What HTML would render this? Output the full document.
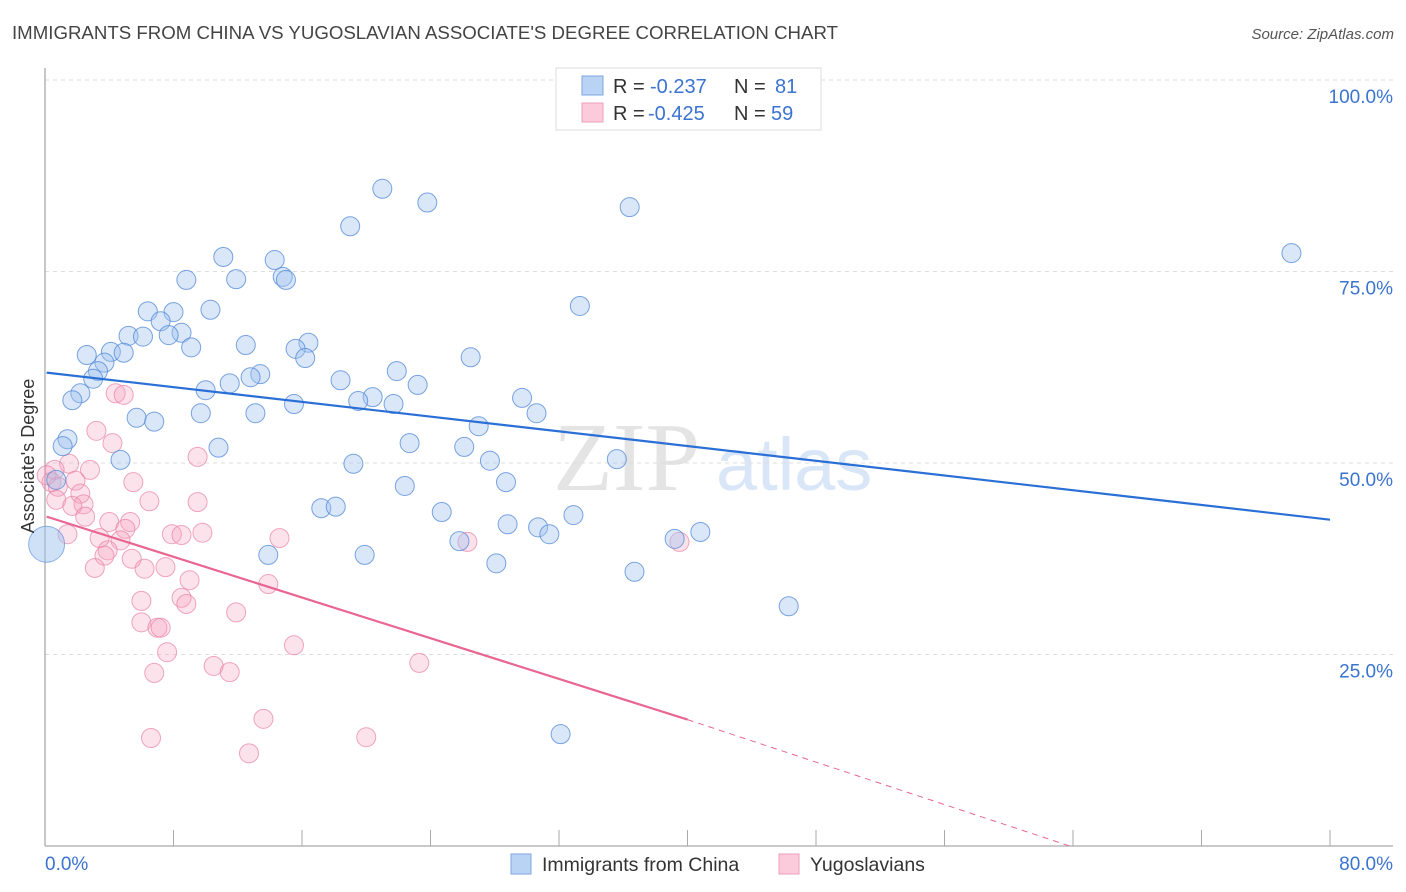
<!DOCTYPE html>
<html><head><meta charset="utf-8"><style>
body{margin:0;background:#fff;width:1406px;height:892px;overflow:hidden;font-family:"Liberation Sans",sans-serif}
svg{position:absolute;left:0;top:0}
</style></head><body>
<svg id="chart" width="1406" height="892" xmlns="http://www.w3.org/2000/svg">
<text x="12" y="39" font-size="18" fill="#444" textLength="826" lengthAdjust="spacingAndGlyphs">IMMIGRANTS FROM CHINA VS YUGOSLAVIAN ASSOCIATE'S DEGREE CORRELATION CHART</text>
<text x="1394" y="39" font-size="15" fill="#555" text-anchor="end" font-style="italic">Source: ZipAtlas.com</text>
<g>
<text x="553" y="490" font-size="98" font-family="Liberation Serif,serif" fill="#e4e4e4">ZIP</text>
<text x="716" y="490" font-size="74" fill="#d9e6f7">atlas</text>
</g>
<g id="grid"></g>
<g id="axes"></g>
<g id="pinkpts"></g>
<g id="bluepts"></g>
<g id="trends"></g>
<text transform="translate(34,456) rotate(-90)" font-size="18" fill="#333" text-anchor="middle">Associate's Degree</text>
<g>
<rect x="556" y="68" width="265" height="62" fill="#fff" stroke="#ddd"/>
<rect x="582" y="76" width="21" height="19" fill="#b9d3f5" stroke="#7ea6e0"/>
<rect x="582" y="103" width="21" height="19" fill="#fbcadb" stroke="#eda0bb"/>
<text x="613" y="93" font-size="20" fill="#333">R = <tspan fill="#3b73d0" x="650">-0.237</tspan><tspan x="734">N = </tspan><tspan fill="#3b73d0" x="775">81</tspan></text>
<text x="613" y="120" font-size="20" fill="#333">R = <tspan fill="#3b73d0" x="648">-0.425</tspan><tspan x="734">N = </tspan><tspan fill="#3b73d0" x="771">59</tspan></text>
</g>
<g>
<rect x="511" y="854" width="20" height="20" fill="#b9d3f5" stroke="#7ea6e0"/>
<text x="542" y="871" font-size="19.5" fill="#333">Immigrants from China</text>
<rect x="779" y="854" width="20" height="20" fill="#fbcadb" stroke="#eda0bb"/>
<text x="810" y="871" font-size="19.5" fill="#333">Yugoslavians</text>
</g>
</svg>
<script>
const blueX=[21.0,23.8,36.4,19.0,77.6,11.1,14.3,8.8,11.9,14.8,15.0,33.3,10.3,6.4,8.0,7.2,8.5,7.7,5.2,6.1,16.4,12.5,9.1,15.6,2.6,4.1,4.9,16.2,26.5,3.7,3.3,3.0,21.9,13.4,12.8,11.5,18.4,23.2,10.0,2.2,1.7,20.4,19.5,21.7,29.7,15.5,9.7,13.1,30.6,5.7,6.8,27.0,1.4,1.1,22.7,10.8,26.1,4.7,35.6,27.7,19.2,28.7,22.4,0.7,17.2,18.1,24.7,32.9,28.8,30.7,40.8,25.8,31.4,39.2,13.9,19.9,28.1,36.7,46.3,32.1];
const blueY=[85.8,84.0,83.4,80.9,77.4,76.9,76.5,73.9,74.0,74.3,73.9,70.5,70.0,69.8,69.7,68.5,67.0,66.7,66.6,66.5,65.7,65.4,65.1,64.9,64.1,64.5,64.4,63.7,63.8,63.1,62.0,61.0,62.0,61.6,61.2,60.4,60.8,60.2,59.5,59.1,58.2,58.6,58.1,57.7,58.5,57.7,56.5,56.5,56.5,55.9,55.4,54.8,53.1,52.2,52.6,52.0,52.1,50.4,50.5,50.3,49.9,47.5,47.0,47.8,44.1,44.3,43.6,43.2,42.0,41.6,41.0,39.8,40.7,40.1,38.0,38.0,36.9,35.8,31.3,14.6];
const pinkX=[4.4,4.9,3.2,4.2,9.5,1.5,2.8,0.6,1.9,0.4,0.8,5.5,2.2,6.5,9.5,0.7,2.4,1.7,2.5,4.0,5.3,1.4,5.0,7.9,8.5,9.8,14.6,26.3,39.5,3.4,4.7,3.9,3.7,5.4,6.2,7.5,3.1,9.0,13.9,6.0,8.5,8.8,11.9,6.0,7.0,7.2,15.5,7.6,10.5,11.5,23.3,6.8,13.6,6.6,20.0,12.7,0.1];
const pinkY=[59.1,58.9,54.2,52.6,50.8,49.9,49.1,49.1,47.7,47.5,46.9,47.5,46.0,45.0,44.9,45.2,44.6,44.4,43.0,42.3,42.3,40.7,41.4,40.7,40.6,40.9,40.2,39.7,39.7,40.2,39.9,38.6,37.9,37.5,36.2,36.4,36.3,34.7,34.2,32.0,32.4,31.6,30.5,29.2,28.5,28.5,26.2,25.3,23.5,22.7,23.9,22.6,16.6,14.1,14.2,12.1,48.4];
const bigBlue=[0.1,39.4];
const blueTrend=[61.8,42.6];
const pinkTrend=[43.0,16.5,40.0,63.8];
const yTicks=[100,75,50,25];
const yTickLabels=["100.0%","75.0%","50.0%","25.0%"];
const xTickLabels=["0.0%","80.0%"];
const NS="http://www.w3.org/2000/svg";
const X=v=>45+v/80*1285, Y=v=>846-v/100*766;
function mk(t,a,p){const e=document.createElementNS(NS,t);for(const k in a)e.setAttribute(k,a[k]);p.appendChild(e);return e;}
const grid=document.getElementById('grid'),axes=document.getElementById('axes');
yTicks.forEach((t,i)=>{
 const l=mk('line',{x1:45,x2:1393,y1:Y(t),y2:Y(t),stroke:'#ddd','stroke-dasharray':'4,4'},grid);
 
 
 const tx=mk('text',{x:1393,y:Y(t)+23,'font-size':19,fill:'#3b73d0','text-anchor':'end'},axes);
 tx.textContent=yTickLabels[i];
 
 
});
mk('line',{x1:45,x2:45,y1:68,y2:846,stroke:'#aaa','stroke-width':1.3},axes);
mk('line',{x1:45,x2:1393,y1:846,y2:846,stroke:'#aaa','stroke-width':1.3},axes);
for(let k=0;k<=10;k++){const xv=k*8;const t=mk('line',{x1:X(xv),x2:X(xv),y1:830,y2:846,stroke:'#aaa'},axes);
 
 }
const xl0=mk('text',{x:45,y:870,'font-size':19,fill:'#3b73d0'},axes);xl0.textContent=xTickLabels[0];


const xl1=mk('text',{x:1393,y:870,'font-size':19,fill:'#3b73d0','text-anchor':'end'},axes);xl1.textContent=xTickLabels[1];


const pp=document.getElementById('pinkpts'),bp=document.getElementById('bluepts');
pinkX.forEach((x,i)=>{const c=mk('circle',{cx:X(x),cy:Y(pinkY[i]),r:9.5,fill:'rgba(246,160,190,0.3)',stroke:'rgba(232,130,165,0.7)','stroke-width':1},pp);
 
 });
blueX.forEach((x,i)=>{const c=mk('circle',{cx:X(x),cy:Y(blueY[i]),r:9.5,fill:'rgba(160,195,240,0.4)',stroke:'rgba(80,135,215,0.75)','stroke-width':1},bp);
 
 });
const bb=mk('circle',{cx:X(bigBlue[0]),cy:Y(bigBlue[1]),r:18,fill:'rgba(160,195,240,0.5)',stroke:'rgba(80,135,215,0.6)'},bp);


const tr=document.getElementById('trends');
const bl=mk('line',{x1:X(0.1),y1:Y(blueTrend[0]),x2:X(80),y2:Y(blueTrend[1]),stroke:'#2a6fd6','stroke-width':2.2},tr);


const pl=mk('line',{x1:X(0.1),y1:Y(pinkTrend[0]),x2:X(pinkTrend[2]),y2:Y(pinkTrend[1]),stroke:'#e8668f','stroke-width':2.2},tr);


const pd=mk('line',{x1:X(pinkTrend[2]),y1:Y(pinkTrend[1]),x2:X(pinkTrend[3]),y2:Y(0),stroke:'#e8668f','stroke-width':1,'stroke-dasharray':'6,5'},tr);


</script>
</body></html>
